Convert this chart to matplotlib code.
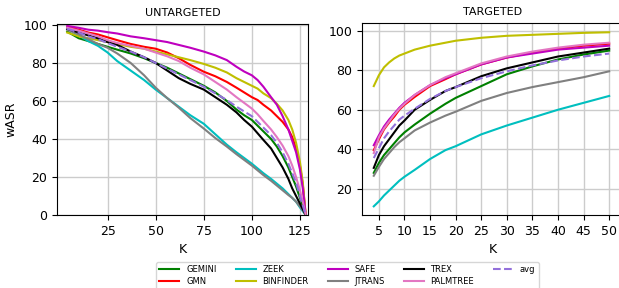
import matplotlib
matplotlib.use("Agg")
import matplotlib.pyplot as plt

# untargeted: wASR vs K (pool size)
k_untgt = [4, 10, 15, 20, 25, 30, 37, 44, 50, 56, 62, 68, 75, 81, 87, 92, 96, 100, 103, 106, 110, 113, 116, 119, 121, 123, 125, 126.5, 128]
untgt = {
    "GEMINI":    [96.5, 93, 91.5, 90, 88.5, 87, 85, 82.5, 80, 77.5, 74.5, 71.5, 68, 64.5, 60, 55.5, 52.5, 50, 47, 44, 40, 36, 31, 25, 20, 15, 9, 5, 0],
    "GMN":       [99, 97.5, 96, 95, 93.5, 92, 90, 88.5, 87.5, 85.5, 82.5, 79, 75.4, 73, 70, 67, 64.5, 62, 60.5, 58, 55, 52, 49, 45, 41, 35, 26, 16, 0],
    "ZEEK":      [98, 94.5, 91.5, 89, 85.5, 81, 76, 71, 66, 61.5, 57, 52.5, 48, 42.5, 37, 33, 30, 27, 24.5, 22, 19, 16.5, 14, 11, 9, 7, 4, 2, 0],
    "BINFINDER": [96, 94, 93, 92, 91, 90, 88.5, 87.5, 86, 84.5, 83, 81.5, 79.5, 77.5, 75, 72, 70, 68, 66.5, 64, 61.5, 58.5, 55, 50, 45, 38, 28, 17, 0],
    "SAFE":      [99.5, 98.5, 97.5, 97, 96.2, 95.5, 94, 93, 92, 91, 89.5, 88, 86, 84, 81.5, 78, 75.5, 73.5, 71, 67.5, 62, 58, 52, 45, 39, 33, 24, 14, 0],
    "JTRANS":    [97.5, 95, 92.5, 90, 88, 85, 80, 73.5, 67, 61.5, 56.5, 51, 45.5, 40.5, 36, 32, 29, 26, 23.5, 21, 18, 15.5, 13, 10.5, 9, 7, 4.5, 2.5, 0],
    "TREX":      [98, 96, 94.5, 93, 91, 89.5, 86, 83, 80, 76, 72, 69, 66, 62, 58, 54, 50, 46.5, 43, 39.5, 35, 30, 25, 19, 14, 10, 6, 3, 0],
    "PALMTREE":  [98.5, 97, 95.5, 94, 92, 90.5, 89, 87.5, 85.5, 83.5, 81, 77.5, 74, 70, 66, 62, 59, 56, 53, 49.5, 45, 41, 36.5, 31, 26, 20, 13, 7, 0],
    "avg":       [98, 96, 94, 92.5, 90.5, 88.5, 86, 83, 80, 77, 74, 71, 67.5, 64, 60.5, 57, 54.5, 52, 49, 46, 42, 38, 33, 27, 22, 17, 10, 5, 0],
}

# targeted: wASR vs K
k_tgt = [4, 5, 6, 7, 8, 9, 10, 12, 15, 18, 20, 25, 30, 35, 40, 45, 50]
tgt = {
    "GEMINI":    [28, 33, 37, 40, 43, 46, 48.5, 52.5, 58, 63, 66, 72, 78, 82, 85.5, 88, 90],
    "GMN":       [39.5, 45, 50, 53.5, 56.5, 60, 62.5, 66.5, 72, 75.5, 78, 83, 86.5, 89, 91, 92.5, 93.5],
    "ZEEK":      [11, 13.5, 16.5, 19, 21.5, 24, 26, 29.5, 35, 39.5, 41.5, 47.5, 52, 56, 60, 63.5, 67],
    "BINFINDER": [72, 77.5, 81.5, 84, 86, 87.5, 88.5, 90.5, 92.5, 94, 95, 96.5, 97.5, 98, 98.5, 99, 99.3],
    "SAFE":      [42, 47, 51.5, 55, 58, 61, 63.5, 67.5, 72.5, 76, 78, 83, 86.5, 88.5, 90.5, 91.5, 92.5],
    "JTRANS":    [26.5, 31, 35, 38, 41, 43.5, 45.5, 49.5, 53.5, 57, 59, 64.5, 68.5, 71.5, 74, 76.5, 79.5],
    "TREX":      [30.5, 37, 41.5, 45, 48.5, 52, 54.5, 60, 65, 69.5, 71.5, 77, 81, 84, 87, 89, 91],
    "PALMTREE":  [38, 46, 50.5, 54, 57.5, 60.5, 63, 67.5, 72.5, 76.5, 78.5, 83.5, 87, 89.5, 91.5, 93, 94],
    "avg":       [35.5, 40.5, 45.5, 49, 52, 55, 57, 60.5, 65.5, 69.5, 71.5, 76, 79.5, 82.5, 85, 87, 88.5],
}

colors = {
    "GEMINI": "green", "GMN": "red", "ZEEK": "c", "BINFINDER": "y",
    "SAFE": "m", "JTRANS": "gray", "TREX": "black", "PALMTREE": "tab:pink",
    "avg": "mediumpurple",
}

fig = plt.figure(figsize=(6.19, 2.88), dpi=100)
ax1 = fig.add_axes([57 / 619, 73 / 288, 251 / 619, 191 / 288])
ax2 = fig.add_axes([362 / 619, 73 / 288, 261 / 619, 192 / 288])

for name in untgt:
    ls = "--" if name == "avg" else "-"
    ax1.plot(k_untgt, untgt[name], color=colors[name], ls=ls, lw=1.5, label=name)
    ax2.plot(k_tgt, tgt[name], color=colors[name], ls=ls, lw=1.5)

ax1.set_xlim(-1.3, 129.2)
ax1.set_ylim(0, 100.5)
ax1.set_xticks([25, 50, 75, 100, 125])
ax1.set_yticks([0, 20, 40, 60, 80, 100])
ax1.set_title("UNTARGETED", fontsize=8)
ax1.set_ylabel("wASR", fontsize=9)
ax1.set_xlabel("K", fontsize=9)

ax2.set_xlim(1.7, 52.7)
ax2.set_ylim(6.6, 104)
ax2.set_xticks(range(5, 51, 5))
ax2.set_yticks([20, 40, 60, 80, 100])
ax2.set_title("TARGETED", fontsize=8)
ax2.set_xlabel("K", fontsize=9)

for ax in (ax1, ax2):
    ax.grid(True, lw=1, color="#cccccc")
    ax.tick_params(labelsize=9)

fig.legend(loc="upper left", bbox_to_anchor=(156 / 619, 1 - 262 / 288), ncol=5,
           fontsize=6, handlelength=2.4, columnspacing=2.3, labelspacing=0.35,
           borderaxespad=0)

fig.savefig("out.png", dpi=100)
